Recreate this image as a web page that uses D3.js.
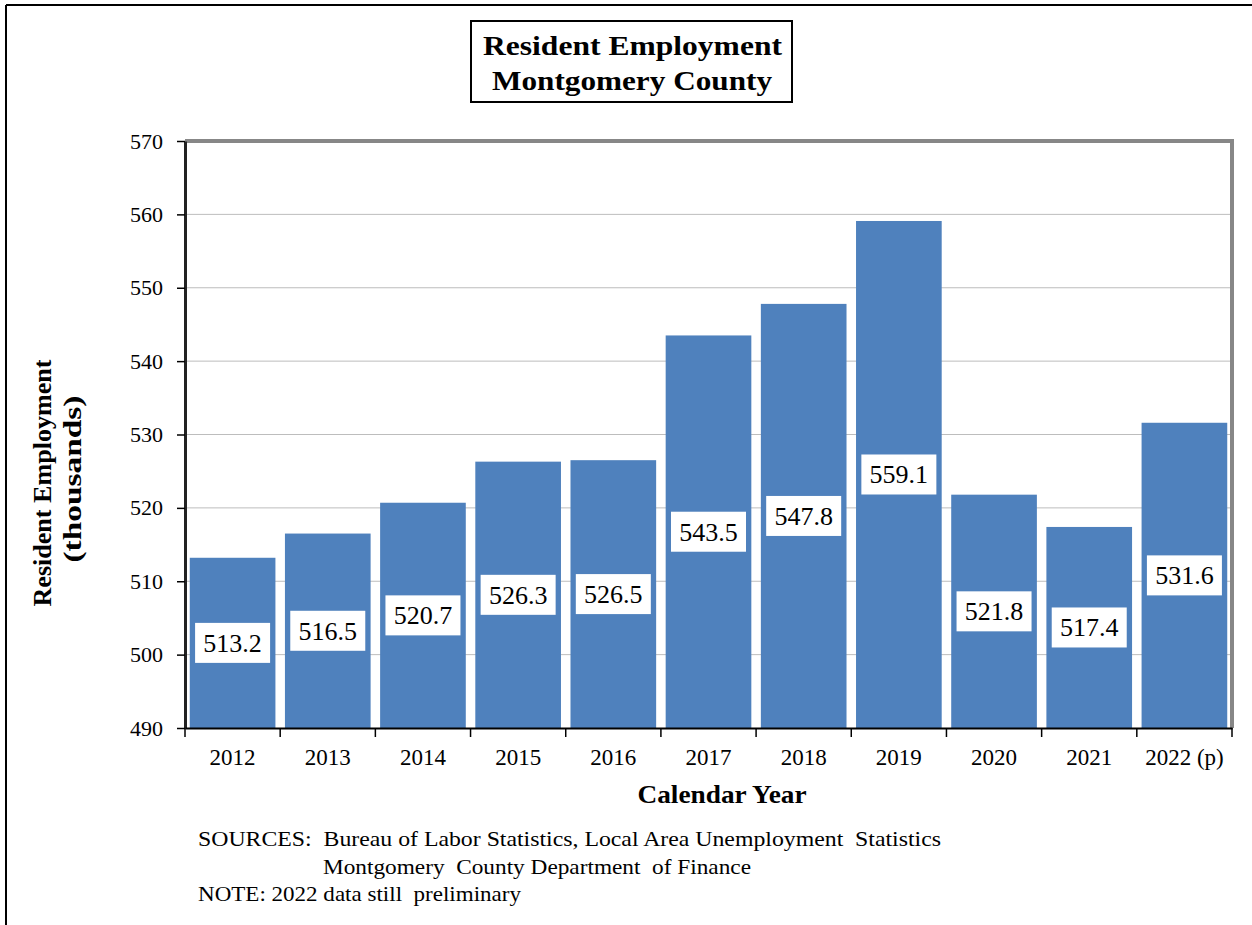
<!DOCTYPE html>
<html>
<head>
<meta charset="utf-8">
<script src="https://cdn.jsdelivr.net/npm/d3@7"></script>
<style>
  body { margin: 0; background: #fff; }
  svg text { font-family: "Liberation Serif", "Times New Roman", serif; fill: #000; }
</style>
</head>
<body>
<svg id="viz" width="1252" height="925"></svg>
<script>
// chart data
var years = ['2012', '2013', '2014', '2015', '2016', '2017', '2018', '2019', '2020', '2021', '2022 (p)'];
var employment = [513.2, 516.5, 520.7, 526.3, 526.5, 543.5, 547.8, 559.1, 521.8, 517.4, 531.6];
var yTicks = [490, 500, 510, 520, 530, 540, 550, 560, 570];
var titleLines = ['Resident Employment', 'Montgomery County'];
var yTitleLines = ['Resident Employment', '(thousands)'];
var noteLines = [
  'SOURCES:  Bureau of Labor Statistics, Local Area Unemployment  Statistics',
  'Montgomery  County Department  of Finance',
  'NOTE: 2022 data still  preliminary'
];

var svg = d3.select('#viz');
var margin = { left: 185, top: 141, right: 1232, bottom: 728 };

// outer frame (top and left edges only show)
svg.append('line').attr('x1', 6).attr('x2', 1252).attr('y1', 5).attr('y2', 5)
  .attr('stroke', '#000').attr('stroke-width', 2);
svg.append('line').attr('x1', 6).attr('x2', 6).attr('y1', 5).attr('y2', 925)
  .attr('stroke', '#000').attr('stroke-width', 2);

var x = d3.scaleBand()
  .domain(years)
  .range([margin.left, margin.right])
  .paddingInner(0.1)
  .paddingOuter(0.05);

var y = d3.scaleLinear().domain([490, 570]).range([margin.bottom, margin.top]);

// gridlines
svg.append('g')
  .selectAll('line')
  .data(yTicks.slice(1, -1))
  .enter()
  .append('line')
  .attr('x1', margin.left)
  .attr('x2', margin.right)
  .attr('y1', function (d) { return y(d); })
  .attr('y2', function (d) { return y(d); })
  .attr('stroke', '#bdbdbd')
  .attr('stroke-width', 1);

// plot border top + right
svg.append('path')
  .attr('d', 'M' + margin.left + ',' + margin.top + 'H' + margin.right + 'V' + margin.bottom)
  .attr('fill', 'none')
  .attr('stroke', '#878787')
  .attr('stroke-width', 4);

// bars
svg.append('g')
  .selectAll('rect')
  .data(employment)
  .enter()
  .append('rect')
  .attr('x', function (d, i) { return x(years[i]); })
  .attr('y', function (d) { return y(d); })
  .attr('width', x.bandwidth())
  .attr('height', function (d) { return y(490) - y(d); })
  .attr('fill', '#4f81bd');

// value labels in white boxes at mid bar
var labels = svg.append('g')
  .selectAll('g')
  .data(employment)
  .enter()
  .append('g')
  .attr('transform', function (d, i) {
    var cx = x(years[i]) + x.bandwidth() / 2;
    var cy = (y(d) + y(490)) / 2;
    return 'translate(' + cx + ',' + cy + ')';
  });
labels.append('rect')
  .attr('x', -37.5)
  .attr('y', -20)
  .attr('width', 75)
  .attr('height', 40)
  .attr('fill', '#fff');
labels.append('text')
  .attr('text-anchor', 'middle')
  .attr('y', 9)
  .style('font-size', '26px')
  .text(function (d) { return d.toFixed(1); });

// y axis
var yAxis = svg.append('g')
  .attr('transform', 'translate(' + margin.left + ',0)')
  .call(d3.axisLeft(y).tickValues(yTicks).tickSize(8).tickPadding(14).tickSizeOuter(0));
yAxis.select('.domain').attr('stroke', '#222').attr('stroke-width', 3);
yAxis.selectAll('.tick line').attr('stroke', '#000').attr('stroke-width', 1.5);
yAxis.selectAll('.tick text')
  .style('font-size', '22px')
  .style('font-family', '"Liberation Serif", serif')
  .attr('fill', '#000');

// x axis: labels centred, ticks at category boundaries
var xAxis = svg.append('g')
  .attr('transform', 'translate(0,' + margin.bottom + ')')
  .call(d3.axisBottom(x).tickSize(0).tickPadding(21).tickSizeOuter(0));
xAxis.select('.domain').attr('stroke', '#000').attr('stroke-width', 2);
xAxis.selectAll('.tick text')
  .style('font-size', '23px')
  .style('font-family', '"Liberation Serif", serif')
  .attr('fill', '#000');
xAxis.selectAll('.boundary')
  .data(d3.range(years.length + 1))
  .enter()
  .append('line')
  .attr('class', 'boundary')
  .attr('x1', function (i) { return margin.left + i * x.step(); })
  .attr('x2', function (i) { return margin.left + i * x.step(); })
  .attr('y1', 0)
  .attr('y2', 9)
  .attr('stroke', '#000')
  .attr('stroke-width', 1.5);

// axis titles
svg.append('text')
  .attr('x', 722)
  .attr('y', 803)
  .attr('text-anchor', 'middle')
  .style('font-size', '26px')
  .style('font-weight', 'bold')
  .attr('textLength', 169)
  .attr('lengthAdjust', 'spacingAndGlyphs')
  .text('Calendar Year');

svg.append('g')
  .selectAll('text')
  .data(yTitleLines)
  .enter()
  .append('text')
  .attr('transform', function (d, i) {
    return 'translate(' + (51 + i * 30) + ',' + (i == 0 ? 483 : 479) + ') rotate(-90)';
  })
  .attr('text-anchor', 'middle')
  .style('font-size', '25px')
  .style('font-weight', 'bold')
  .attr('textLength', function (d, i) { return i == 0 ? 247 : 167; })
  .attr('lengthAdjust', 'spacingAndGlyphs')
  .text(function (d) { return d; });

// title box
svg.append('rect')
  .attr('x', 471)
  .attr('y', 21)
  .attr('width', 321)
  .attr('height', 81)
  .attr('fill', '#fff')
  .attr('stroke', '#000')
  .attr('stroke-width', 2);
svg.append('g')
  .selectAll('text')
  .data(titleLines)
  .enter()
  .append('text')
  .attr('x', function (d, i) { return i == 0 ? 632.5 : 632; })
  .attr('y', function (d, i) { return 55 + i * 35; })
  .attr('text-anchor', 'middle')
  .style('font-size', '28px')
  .style('font-weight', 'bold')
  .attr('textLength', function (d, i) { return i == 0 ? 299 : 280; })
  .attr('lengthAdjust', 'spacingAndGlyphs')
  .text(function (d) { return d; });

// source notes
svg.append('g')
  .selectAll('text')
  .data(noteLines)
  .enter()
  .append('text')
  .attr('x', function (d, i) { return i == 1 ? 323 : 198; })
  .attr('y', function (d, i) { return 846 + i * 27.5; })
  .style('font-size', '22px')
  .style('white-space', 'pre')
  .attr('textLength', function (d, i) { return [743, 428, 323][i]; })
  .attr('lengthAdjust', 'spacingAndGlyphs')
  .text(function (d) { return d; });
</script>
</body>
</html>
